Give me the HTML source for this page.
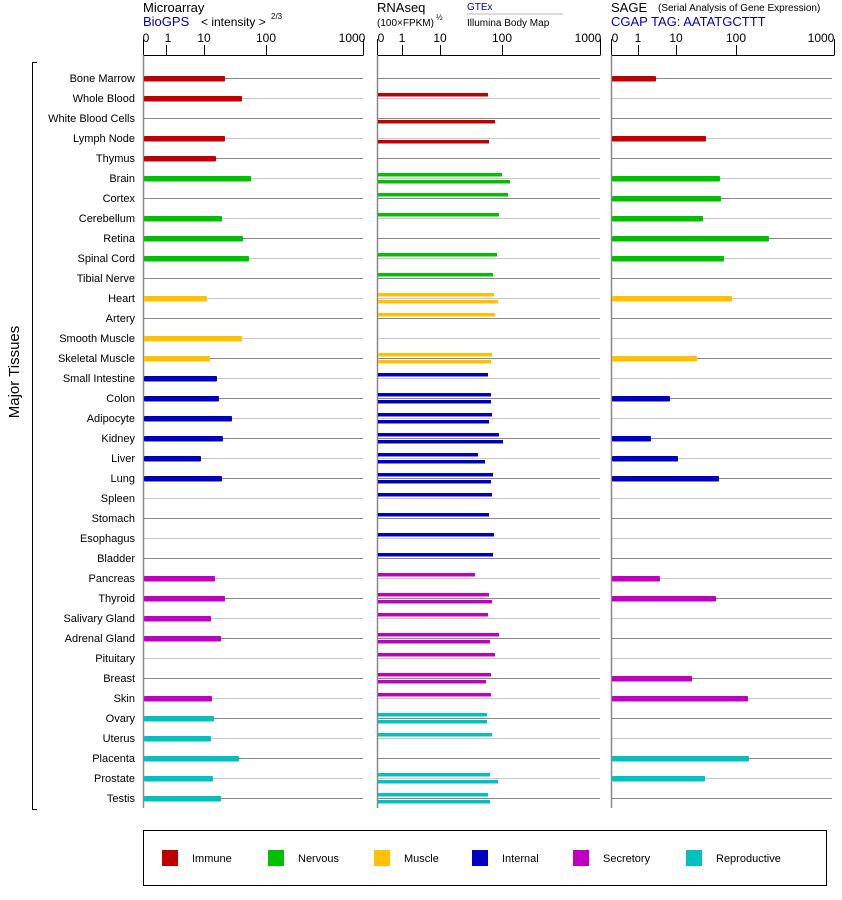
<!DOCTYPE html>
<html><head><meta charset="utf-8"><style>
body{margin:0;background:#fff;font-family:"Liberation Sans",sans-serif}
svg{display:block}
text{font-family:"Liberation Sans",sans-serif}
</style></head><body>
<svg width="842" height="900" viewBox="0 0 842 900" xmlns="http://www.w3.org/2000/svg">
<g font-size="13" fill="#000">
<text x="143" y="12">Microarray</text>
<text x="143" y="26" fill="#0000c0">BioGPS</text>
<text x="201" y="26" font-size="12">&lt; intensity &gt;</text><text x="271" y="19" font-size="8">2/3</text>
<text x="377" y="12">RNAseq</text>
<text x="377" y="26" font-size="10">(100×FPKM)</text><text x="436" y="20" font-size="8">½</text>
<text x="467" y="10" font-size="10" fill="#0000c0">GTEx</text>
<line x1="467" y1="14" x2="563" y2="14" stroke="#bbb"/>
<text x="467" y="26" font-size="10">Illumina Body Map</text>
<text x="611" y="12">SAGE</text><text x="658" y="11" font-size="10">(Serial Analysis of Gene Expression)</text>
<text x="611" y="26" fill="#0000c0">CGAP TAG: AATATGCTTT</text>
</g>
<g stroke="#000" stroke-width="1" fill="none">
<path d="M143.5 55.5H363.5M143.5 39V55M166.5 45V55M204.5 45V55M266.5 45V55M363.5 39V55"/>
<path d="M377.5 55.5H600.5M377.5 39V55M402.5 45V55M440.5 45V55M502.5 45V55M600.5 39V55"/>
<path d="M611.5 55.5H834.5M611.5 39V55M638.5 45V55M676.5 45V55M736.5 45V55M834.5 39V55"/>
<path d="M37 62.5H32.5V809.5H37"/>
</g>
<g font-size="12" text-anchor="middle">
<text x="146" y="42">0</text><text x="168" y="42">1</text><text x="204" y="42">10</text><text x="266" y="42">100</text><text x="352" y="42">1000</text>
<text x="381" y="42">0</text><text x="402" y="42">1</text><text x="440" y="42">10</text><text x="502" y="42">100</text><text x="588" y="42">1000</text>
<text x="615" y="42">0</text><text x="638" y="42">1</text><text x="676" y="42">10</text><text x="736" y="42">100</text><text x="821" y="42">1000</text>
</g>
<text transform="translate(19,372) rotate(-90)" text-anchor="middle" font-size="15">Major Tissues</text>
<g id="grid"></g>
<g stroke="#888" stroke-width="1.5"><line x1="143.5" y1="56" x2="143.5" y2="808"/><line x1="377.5" y1="56" x2="377.5" y2="808"/><line x1="611.5" y1="56" x2="611.5" y2="808"/></g>
<g id="labels" font-size="11" text-anchor="end"></g>
<g id="bars"></g>
<rect x="143.5" y="830.5" width="683" height="55" fill="none" stroke="#000"/>
<g font-size="11">
<rect x="162" y="850" width="16" height="16" fill="#c00000"/><text x="192" y="862">Immune</text>
<rect x="268" y="850" width="16" height="16" fill="#00c000"/><text x="298" y="862">Nervous</text>
<rect x="374" y="850" width="16" height="16" fill="#ffc000"/><text x="404" y="862">Muscle</text>
<rect x="472" y="850" width="16" height="16" fill="#0000c0"/><text x="502" y="862">Internal</text>
<rect x="573" y="850" width="16" height="16" fill="#c000c0"/><text x="603" y="862">Secretory</text>
<rect x="686" y="850" width="16" height="16" fill="#00c0c0"/><text x="716" y="862">Reproductive</text>
</g>
</svg>
<script>
var C={I:"#c00000",N:"#00c000",M:"#ffc000",T:"#0000c0",S:"#c000c0",R:"#00c0c0"};
var rows=[
["Bone Marrow","I",225,0,0,656],["Whole Blood","I",242,488,0,0],["White Blood Cells","I",0,0,495,0],["Lymph Node","I",225,0,489,706],["Thymus","I",216,0,0,0],
["Brain","N",251,502,510,720],["Cortex","N",0,508,0,721],["Cerebellum","N",222,499,0,703],["Retina","N",243,0,0,769],["Spinal Cord","N",249,497,0,724],["Tibial Nerve","N",0,493,0,0],
["Heart","M",207,494,498,732],["Artery","M",0,495,0,0],["Smooth Muscle","M",242,0,0,0],["Skeletal Muscle","M",210,492,491,697],
["Small Intestine","T",217,488,0,0],["Colon","T",219,491,491,670],["Adipocyte","T",232,492,489,0],["Kidney","T",223,499,503,651],["Liver","T",201,478,485,678],["Lung","T",222,493,491,719],["Spleen","T",0,492,0,0],["Stomach","T",0,489,0,0],["Esophagus","T",0,494,0,0],["Bladder","T",0,493,0,0],
["Pancreas","S",215,475,0,660],["Thyroid","S",225,489,492,716],["Salivary Gland","S",211,488,0,0],["Adrenal Gland","S",221,499,490,0],["Pituitary","S",0,495,0,0],["Breast","S",0,491,486,692],["Skin","S",212,491,0,748],
["Ovary","R",214,487,487,0],["Uterus","R",211,492,0,0],["Placenta","R",239,0,0,749],["Prostate","R",213,490,498,705],["Testis","R",221,488,490,0]];
var ns="http://www.w3.org/2000/svg";
function el(g,t,a,txt){var e=document.createElementNS(ns,t);for(var k in a)e.setAttribute(k,a[k]);if(txt)e.textContent=txt;document.getElementById(g).appendChild(e);}
rows.forEach(function(r,i){var y=78+20*i,col=i%2?"#c8c8c8":"#888";
[[143,363],[377,600],[611,832]].forEach(function(p){el("grid","line",{x1:p[0],x2:p[1],y1:y+0.5,y2:y+0.5,stroke:col,"stroke-width":1});});
el("labels","text",{x:135,y:y+4},r[0]);var c=C[r[1]];
if(r[2])el("bars","rect",{x:144,y:y-2,width:r[2]-144,height:5.5,fill:c,rx:1});
if(r[3])el("bars","rect",{x:378,y:y-5,width:r[3]-378,height:3.5,fill:c});
if(r[4])el("bars","rect",{x:378,y:y+2,width:r[4]-378,height:3.5,fill:c});
if(r[5])el("bars","rect",{x:612,y:y-2,width:r[5]-612,height:5.5,fill:c,rx:1});
});
</script>
</body></html>
